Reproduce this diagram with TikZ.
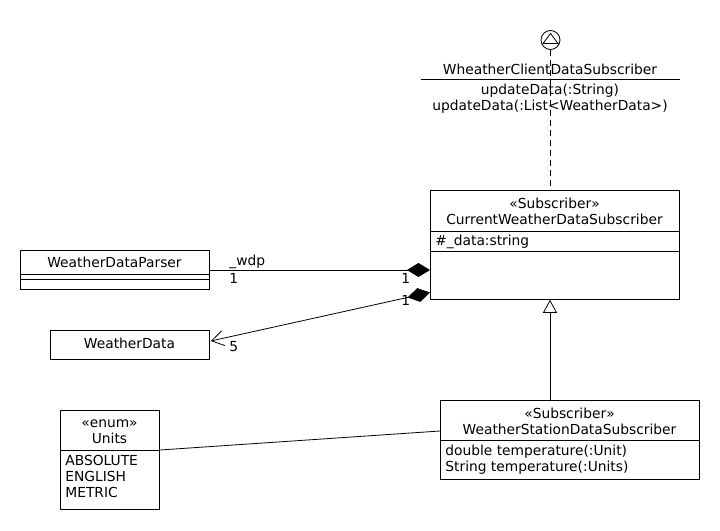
\documentclass[tikz,border=0pt]{standalone}
\usepackage{fontspec}
\setmainfont{DejaVu Sans}
\usetikzlibrary{arrows.meta,calc}
\begin{document}
\begin{tikzpicture}[x=1pt,y=-1pt,
  font=\fontsize{13.8}{16}\selectfont,
  line width=0.8pt,
  box/.style={draw, anchor=north west, inner sep=0pt},
  txt/.style={inner sep=0pt, anchor=base},
  ltxt/.style={inner sep=0pt, anchor=base west},
  comp/.style={-{Diamond[length=23pt,width=14pt]}},
  compnav/.style={{Diamond[length=23pt,width=14pt]}-{Straight Barb[length=12pt,width=15pt,line width=0.8pt]}},
  gen/.style={-{Triangle[open,length=13pt,width=14pt,line width=0.8pt]}},
  real/.style={dash pattern=on 6pt off 4pt}]
\useasboundingbox[fill=white] (0,0) rectangle (720,530);

% interface lollipop
\node[draw, circle, minimum size=19pt, inner sep=0pt] (lolli) at (550.5,40) {};
\draw (543,43.5) -- (550.5,33.5) -- (558,43.5) -- cycle;
\node[txt] (ifname) at (550,74) {WheatherClientDataSubscriber};
\draw (421,79) -- (680,79);
\node[txt] (ifop1) at (550,94) {updateData(:String)};
\node[txt] (ifop2) at (550,110) {updateData(:List<WeatherData>)};

% CurrentWeatherDataSubscriber
\node[box, minimum width=249pt, minimum height=109pt] (cw) at (430,190) {};
\draw ($(cw.north west)+(0,41)$) -- ($(cw.north east)+(0,41)$);
\draw ($(cw.north west)+(0,61)$) -- ($(cw.north east)+(0,61)$);
\node[txt] (cwst) at (554.5,208) {«Subscriber»};
\node[txt] (cwname) at (554.5,224) {CurrentWeatherDataSubscriber};
\node[ltxt] (cwattr) at (435,245) {\#\_data:string};

% WeatherDataParser
\node[box, minimum width=189pt, minimum height=39pt] (wdp) at (20,250) {};
\draw ($(wdp.north west)+(0,24)$) -- ($(wdp.north east)+(0,24)$);
\draw ($(wdp.north west)+(0,29)$) -- ($(wdp.north east)+(0,29)$);
\node[txt] (wdpname) at (114.5,267) {WeatherDataParser};

% WeatherData
\node[box, minimum width=159pt, minimum height=29pt] (wd) at (50,330) {};
\node[txt] (wdname) at (129.5,348) {WeatherData};

% Units
\node[box, minimum width=99pt, minimum height=99pt] (un) at (60,410) {};
\draw ($(un.north west)+(0,40)$) -- ($(un.north east)+(0,40)$);
\node[txt] (unst) at (109.5,427) {«enum»};
\node[txt] (unname) at (109.5,443) {Units};
\node[ltxt] (un1) at (65,465) {ABSOLUTE};
\node[ltxt] (un2) at (65,481) {ENGLISH};
\node[ltxt] (un3) at (65,497) {METRIC};

% WeatherStationDataSubscriber
\node[box, minimum width=259pt, minimum height=79pt] (ws) at (440,400) {};
\draw ($(ws.north west)+(0,40)$) -- ($(ws.north east)+(0,40)$);
\node[txt] (wsst) at (569.5,418) {«Subscriber»};
\node[txt] (wsname) at (569.5,434) {WeatherStationDataSubscriber};
\node[ltxt] (ws1) at (445,455) {double temperature(:Unit)};
\node[ltxt] (ws2) at (445,471) {String temperature(:Units)};

% connectors
\draw[real] (lolli.south) -- (lolli.south |- cw.north);
\draw[comp] ($(wdp.north east)+(0,20)$) -- ($(cw.north west)+(0,80)$);
\draw[compnav] ($(cw.north west)+(0,102.5)$) -- ($(wd.north east)+(1,11)$);
\draw[gen] ($(ws.north west)+(110,0)$) -- ($(cw.south west)+(120,0)$);
\draw ($(un.north east)+(0,40)$) -- ($(ws.north west)+(0,31)$);

% labels
\node[ltxt] (lwdp) at (229,265) {\_wdp};
\node[ltxt] (l1a) at (229,283) {1};
\node[ltxt] (l1b) at (401,283) {1};
\node[ltxt] (l1c) at (401,305) {1};
\node[ltxt] (l5) at (229,351) {5};
\end{tikzpicture}
\end{document}
